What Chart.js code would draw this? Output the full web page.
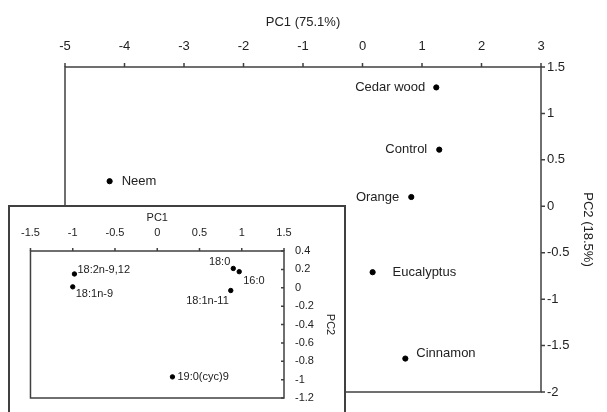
<!DOCTYPE html>
<html><head><meta charset="utf-8">
<script src="https://cdn.jsdelivr.net/npm/chart.js@4"></script>
<style>
html,body{margin:0;padding:0;background:#fff;overflow:hidden;width:607px;height:412px}
#main{position:absolute;left:0;top:0;width:607px;height:412px}
#insetBox{position:absolute;left:8px;top:205px;width:338px;height:230px;background:#fff;border:2px solid #404040;box-sizing:border-box}
#c2{position:absolute;left:0;top:0}
</style></head><body>
<div id="main"><canvas id="c1" width="607" height="412"></canvas></div>
<div id="insetBox"><canvas id="c2" width="334" height="210"></canvas></div>
<script>
// ---- data ----
const treatments = ['Neem','Cedar wood','Control','Orange','Eucalyptus','Cinnamon'];
const pc1Scores  = [-4.25, 1.24, 1.29, 0.82, 0.17, 0.72];
const pc2Scores  = [0.27, 1.28, 0.61, 0.10, -0.71, -1.64];
const pc1Ticks   = [-5,-4,-3,-2,-1,0,1,2,3];
const pc2Ticks   = [-2,-1.5,-1,-0.5,0,0.5,1,1.5];

const fattyAcids  = ['18:2n-9,12','18:1n-9','18:0','16:0','18:1n-11','19:0(cyc)9'];
const loadingPC1  = [-0.98, -1.00, 0.90, 0.97, 0.87, 0.18];
const loadingPC2  = [0.15, 0.01, 0.21, 0.175, -0.03, -0.97];
const insetXTicks = [-1.5,-1,-0.5,0,0.5,1,1.5];
const insetYTicks = [-1.2,-1,-0.8,-0.6,-0.4,-0.2,0,0.2,0.4];

// ---- label placement (style) ----
const mainPlace = [
  {a:'left',dx:12,dy:0},{a:'right',dx:-11,dy:0},{a:'right',dx:-12,dy:0},
  {a:'right',dx:-12,dy:0},{a:'left',dx:20,dy:0},{a:'left',dx:11,dy:-5}];
const insetPlace = [
  {a:'left',dx:3,dy:-4},{a:'left',dx:3,dy:7},{a:'right',dx:-3,dy:-6},
  {a:'left',dx:4,dy:9},{a:'right',dx:-2,dy:10},{a:'left',dx:5,dy:0}];

const FONT = "'Liberation Sans', Arial, sans-serif";
const AXC = '#404040';
const TXT = '#222';

const frame = {
  id:'frame',
  afterDraw(chart, args, o){
    const {ctx, chartArea:a} = chart; const x = chart.scales.x, y = chart.scales.y;
    ctx.save();
    ctx.strokeStyle = AXC; ctx.lineWidth = o.lw;
    ctx.strokeRect(a.left, a.top, a.right-a.left, a.bottom-a.top);
    ctx.beginPath();
    x.ticks.forEach(t=>{const p=x.getPixelForValue(t.value); ctx.moveTo(p,a.top); ctx.lineTo(p,a.top+o.xtick);});
    y.ticks.forEach(t=>{const p=y.getPixelForValue(t.value); ctx.moveTo(a.right,p); ctx.lineTo(a.right+o.ytick,p);});
    ctx.stroke();
    ctx.restore();
  }
};
const pointLabels = {
  id:'pointLabels',
  afterDatasetsDraw(chart, args, o){
    const ctx = chart.ctx; const meta = chart.getDatasetMeta(0);
    ctx.save(); ctx.font = o.size+'px '+FONT; ctx.fillStyle = TXT; ctx.textBaseline='middle';
    meta.data.forEach((el,i)=>{const p=o.place[i]; ctx.textAlign=p.a; ctx.fillText(o.labels[i], el.x+p.dx, el.y+p.dy);});
    ctx.restore();
  }
};
const fmt = v => String(Math.round(v*10)/10);

function makeChart(id, xs, ys, labels, place, cfg){
  return new Chart(document.getElementById(id), {
    type:'scatter',
    data:{datasets:[{data:xs.map((v,i)=>({x:v,y:ys[i]})), backgroundColor:'#000', borderColor:'#000', pointRadius:cfg.r, pointHoverRadius:cfg.r}]},
    options:{
      responsive:false, animation:false, events:[],
      layout:{padding:{left:cfg.padL, bottom:cfg.padB, top:0, right:0}},
      plugins:{legend:{display:false}, tooltip:{enabled:false},
        frame:{lw:1.5, xtick:cfg.xtk, ytick:cfg.ytk}, pointLabels:{labels, place, size:cfg.lab}},
      scales:{
        x:{type:'linear', position:'top', min:cfg.xmin, max:cfg.xmax,
          afterBuildTicks:s=>{s.ticks = cfg.xt.map(v=>({value:v}));},
          afterFit:s=>{s.height = cfg.xh;},
          grid:{display:false, drawTicks:false}, border:{display:false},
          ticks:{color:TXT, font:{family:FONT,size:cfg.tk}, padding:cfg.xpad, callback:fmt, maxRotation:0},
          title:{display:true, text:cfg.xtitle, color:TXT, font:{family:FONT,size:cfg.tt}, padding:{top:cfg.xtp,bottom:0}}},
        y:{type:'linear', position:'right', min:cfg.ymin, max:cfg.ymax,
          afterBuildTicks:s=>{s.ticks = cfg.yt.map(v=>({value:v}));},
          afterFit:s=>{s.width = cfg.yw;},
          grid:{display:false, drawTicks:false}, border:{display:false},
          ticks:{color:TXT, font:{family:FONT,size:cfg.tk}, padding:cfg.ypad, callback:fmt},
          title:{display:true, text:cfg.ytitle, color:TXT, font:{family:FONT,size:cfg.tt}, padding:{top:cfg.ytp,bottom:0}}}
      }
    },
    plugins:[frame, pointLabels]
  });
}

makeChart('c1', pc1Scores, pc2Scores, treatments, mainPlace, {
  r:2.6, padL:65, padB:20, xtk:-4, ytk:4, lab:13, tk:13, tt:13,
  xmin:-5, xmax:3, xt:pc1Ticks, xh:67, xpad:13, xtitle:'PC1 (75.1%)', xtp:15,
  ymin:-2, ymax:1.5, yt:pc2Ticks, yw:66, ypad:6, ytitle:'PC2 (18.5%)', ytp:12});

makeChart('c2', loadingPC1, loadingPC2, fattyAcids, insetPlace, {
  r:2.2, padL:13, padB:19, xtk:-3, ytk:-3, lab:11, tk:11, tt:11,
  xmin:-1.5, xmax:1.5, xt:insetXTicks, xh:44, xpad:11, xtitle:'PC1', xtp:4,
  ymin:-1.2, ymax:0.4, yt:insetYTicks, yw:60, ypad:11, ytitle:'PC2', ytp:7});
</script>
</body></html>
